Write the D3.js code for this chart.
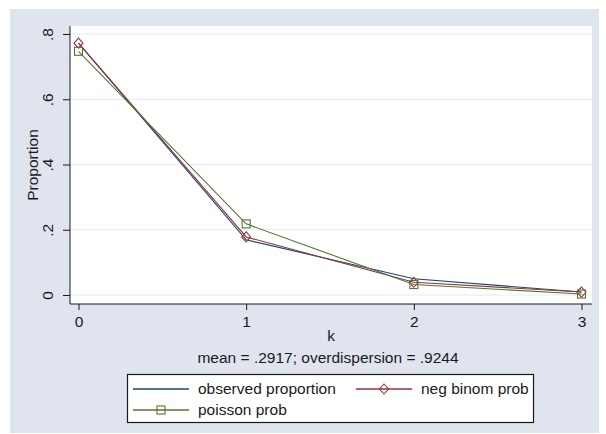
<!DOCTYPE html>
<html><head><meta charset="utf-8">
<script src="https://cdn.jsdelivr.net/npm/d3@7"></script>
<style>body{margin:0;background:#fff}text{font-family:"Liberation Sans",Arial,sans-serif}</style>
</head><body><svg id="c" width="606" height="434"></svg>
<script>
const kValues = [0, 1, 2, 3];
const observed = [0.772, 0.169, 0.050, 0.009];
const negBinom = [0.772, 0.178, 0.039, 0.009];
const poisson = [0.747, 0.218, 0.032, 0.003];
const yTicks = [0, 0.2, 0.4, 0.6, 0.8];
const yTickLabels = ["0", ".2", ".4", ".6", ".8"];
const xTicks = [0, 1, 2, 3];
const seriesNames = ["observed proportion", "neg binom prob", "poisson prob"];
const subtitle = "mean = .2917; overdispersion = .9244";

const FS = 15.5;
const svg = d3.select("#c");
const C = {obs:"#1a476f", nb:"#90353b", po:"#55752f", bg:"#dfe4ef", grid:"#e3e9f2", ink:"#1a1a1a"};

svg.append("rect").attr("x",10).attr("y",9).attr("width",589).attr("height",424).attr("fill",C.bg);
const P = {l:70, r:592, t:26, b:304};
svg.append("rect").attr("x",P.l).attr("y",P.t).attr("width",P.r-P.l).attr("height",P.b-P.t).attr("fill","#fff");

const x = d3.scaleLinear().domain([0,3]).range([78.5,581.5]);
const y = d3.scaleLinear().domain([0,0.8]).range([295,34]);

// gridlines
svg.append("g").selectAll("line").data(yTicks).join("line")
  .attr("x1",P.l).attr("x2",P.r).attr("y1",d=>y(d)).attr("y2",d=>y(d))
  .attr("stroke",C.grid).attr("stroke-width",1.2);

// y axis
const ya = svg.append("g").attr("transform",`translate(${P.l},0)`)
  .call(d3.axisLeft(y).tickValues(yTicks).tickSize(7).tickFormat((d,i)=>yTickLabels[i]));
ya.select(".domain").attr("d",`M0,${P.t}V${P.b}`).attr("stroke",C.ink);
ya.selectAll(".tick line").attr("stroke",C.ink);
ya.selectAll(".tick text").attr("transform","rotate(-90)").attr("x",0).attr("y",-17)
  .attr("dy","0").attr("text-anchor","middle").attr("font-size",FS).attr("fill",C.ink);

// x axis
const xa = svg.append("g").attr("transform",`translate(0,${P.b})`)
  .call(d3.axisBottom(x).tickValues(xTicks).tickSize(6).tickFormat(d3.format("d")));
xa.select(".domain").attr("d",`M${P.l},0H${P.r}`).attr("stroke",C.ink);
xa.selectAll(".tick line").attr("stroke",C.ink);
xa.selectAll(".tick text").attr("y",12).attr("font-size",FS).attr("fill",C.ink);

svg.append("text").attr("x",33).attr("y",165).attr("transform","rotate(-90,33,165)")
  .attr("text-anchor","middle").attr("dy","0.35em").attr("font-size",FS).attr("fill",C.ink).text("Proportion");
svg.append("text").attr("x",331).attr("y",341).attr("text-anchor","middle").attr("font-size",FS).attr("fill",C.ink).text("k");
svg.append("text").attr("x",328).attr("y",363).attr("text-anchor","middle").attr("font-size",FS).attr("fill",C.ink).text(subtitle);

const line = d3.line().x((d,i)=>x(kValues[i])).y(d=>y(d));
const series = [
  {vals:observed, color:C.obs, m:null},
  {vals:negBinom, color:C.nb, m:"diamond"},
  {vals:poisson, color:C.po, m:"square"}
];
function marker(g, type, cx, cy, color){
  if(type==="diamond"){
    g.append("path").attr("d",`M${cx},${cy-5}L${cx+4.5},${cy}L${cx},${cy+5}L${cx-4.5},${cy}Z`)
      .attr("fill","none").attr("stroke",color).attr("stroke-width",1.1);
  } else if(type==="square"){
    g.append("rect").attr("x",cx-4).attr("y",cy-4).attr("width",8).attr("height",8)
      .attr("fill","none").attr("stroke",color).attr("stroke-width",1.1);
  }
}
const gl = svg.append("g");
series.forEach(s=>{
  gl.append("path").attr("d",line(s.vals)).attr("fill","none").attr("stroke",s.color).attr("stroke-width",1.1);
});
series.forEach(s=>{
  if(s.m) s.vals.forEach((v,i)=>marker(gl,s.m,x(kValues[i]),y(v),s.color));
});

// legend
const lg = svg.append("g");
lg.append("rect").attr("x",127.5).attr("y",374.5).attr("width",406).attr("height",48)
  .attr("fill","#fff").attr("stroke",C.ink).attr("stroke-width",1.2);
const items = [
  {x1:133,x2:189,tx:198,y:389,color:C.obs,m:null,name:seriesNames[0]},
  {x1:356,x2:412,tx:421,y:389,color:C.nb,m:"diamond",name:seriesNames[1]},
  {x1:133,x2:189,tx:198,y:410,color:C.po,m:"square",name:seriesNames[2]}
];
items.forEach(it=>{
  lg.append("line").attr("x1",it.x1).attr("x2",it.x2).attr("y1",it.y).attr("y2",it.y)
    .attr("stroke",it.color).attr("stroke-width",1.3);
  if(it.m) marker(lg,it.m,(it.x1+it.x2)/2,it.y,it.color);
  lg.append("text").attr("x",it.tx).attr("y",it.y).attr("dy","0.35em").attr("font-size",FS).attr("fill",C.ink).text(it.name);
});
</script></body></html>
